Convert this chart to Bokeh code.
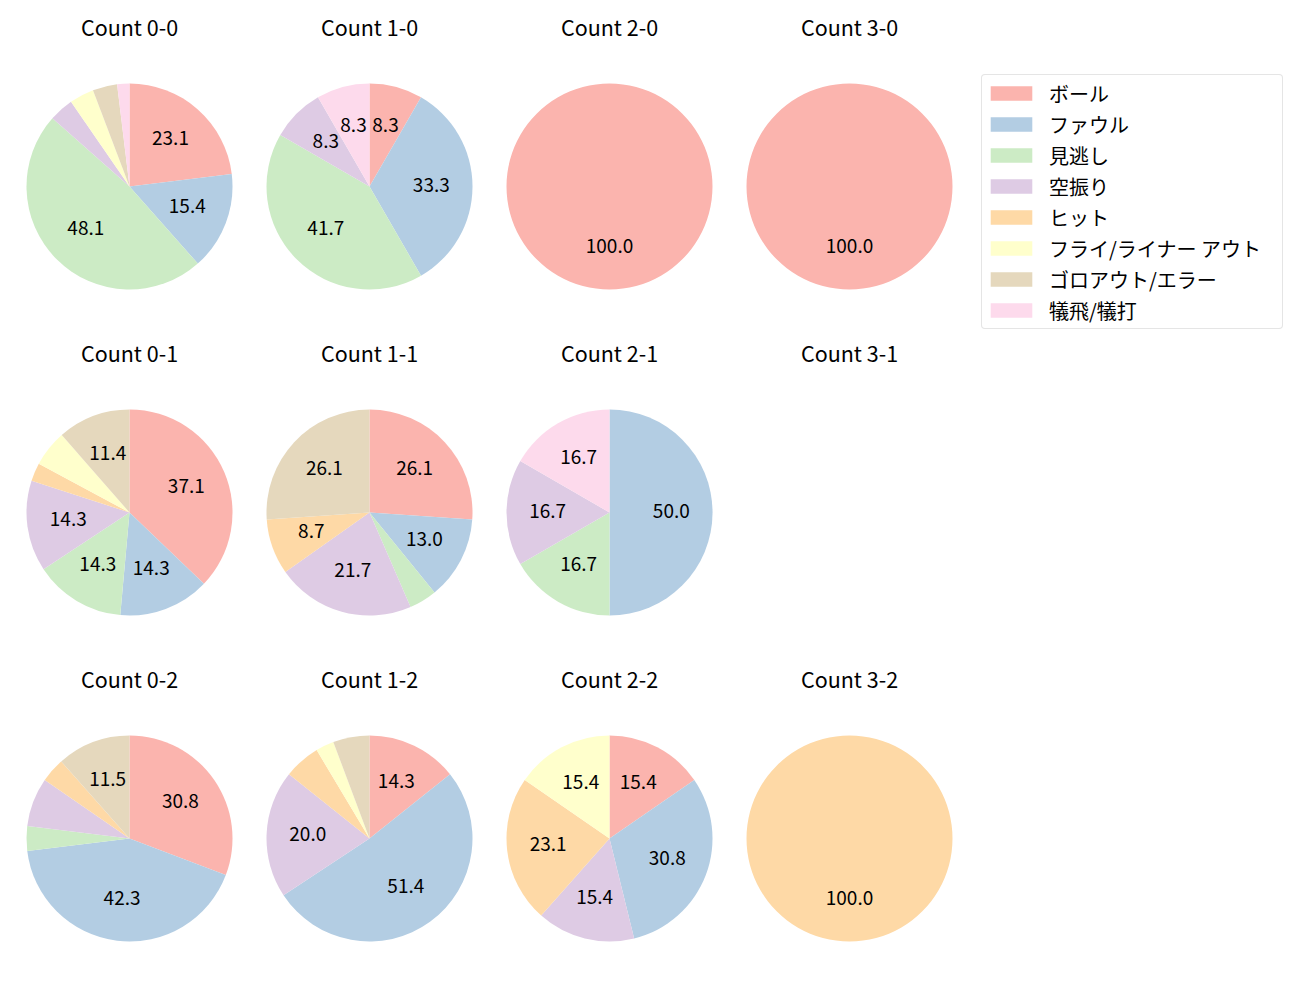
import math
from bokeh.plotting import figure
from bokeh.models import ColumnDataSource, Range1d, Legend, LegendItem
from bokeh.core.properties import value
from bokeh.embed import file_html
from bokeh.resources import INLINE

# ---------------- data ----------------
categories = ["ボール", "ファウル", "見逃し", "空振り", "ヒット",
              "フライ/ライナー アウト", "ゴロアウト/エラー", "犠飛/犠打"]
colors = ["#fbb4ae", "#b3cde3", "#ccebc5", "#decbe4",
          "#fed9a6", "#ffffcc", "#e5d8bd", "#fddaec"]

balls = [0, 1, 2, 3]
strikes = [0, 1, 2]

# pitch outcome counts per ball-strike count, in category order
count_0_0 = [12, 8, 25, 2, 0, 2, 2, 1]
count_1_0 = [1, 4, 5, 1, 0, 0, 0, 1]
count_2_0 = [1, 0, 0, 0, 0, 0, 0, 0]
count_3_0 = [1, 0, 0, 0, 0, 0, 0, 0]
count_0_1 = [13, 5, 5, 5, 1, 2, 4, 0]
count_1_1 = [6, 3, 1, 5, 2, 0, 6, 0]
count_2_1 = [0, 3, 1, 1, 0, 0, 0, 1]
count_3_1 = [0, 0, 0, 0, 0, 0, 0, 0]
count_0_2 = [8, 11, 1, 2, 1, 0, 3, 0]
count_1_2 = [5, 18, 0, 7, 2, 1, 2, 0]
count_2_2 = [2, 4, 0, 2, 3, 2, 0, 0]
count_3_2 = [0, 0, 0, 0, 1, 0, 0, 0]

pitch_counts = {
    (0, 0): count_0_0, (1, 0): count_1_0, (2, 0): count_2_0, (3, 0): count_3_0,
    (0, 1): count_0_1, (1, 1): count_1_1, (2, 1): count_2_1, (3, 1): count_3_1,
    (0, 2): count_0_2, (1, 2): count_1_2, (2, 2): count_2_2, (3, 2): count_3_2,
}

# ---------------- layout ----------------
FONT = "Noto Sans CJK JP"
W, H = 1284, 984
X0, DX = 129, 240          # pie centre of first column, column step (px)
Y0, DY = 1000 - 186, 326   # pie centre of first row (y up), row step
R = 103
TITLE_OFF = 160
LABEL_MIN = 8.0

p = figure(width=W, height=H, x_range=Range1d(0, W), y_range=Range1d(1000 - H, 1000),
           x_axis_type=None, y_axis_type=None, output_backend="svg",
           toolbar_location=None, min_border=0)
p.grid.visible = False
p.outline_line_color = None
p.background_fill_color = "white"

wedge_data = {i: dict(x=[], y=[], start=[], end=[]) for i in range(len(categories))}
label_data = dict(x=[], y=[], text=[])
title_data = dict(x=[], y=[], text=[])

for si, s in enumerate(strikes):
    for bi, b in enumerate(balls):
        cx = X0 + bi * DX
        cy = Y0 - si * DY
        title_data["x"].append(cx)
        title_data["y"].append(cy + TITLE_OFF)
        title_data["text"].append(f"Count {b}-{s}")
        vals = pitch_counts[(b, s)]
        total = sum(vals)
        if total == 0:
            continue
        cum = 0.0
        for ci, v in enumerate(vals):
            if v == 0:
                continue
            f0 = cum / total
            f1 = (cum + v) / total
            cum += v
            a0 = math.pi / 2 - 2 * math.pi * f0
            a1 = math.pi / 2 - 2 * math.pi * f1
            if f1 - f0 >= 0.9999:
                a1 = a0 - 2 * math.pi + 1e-5
            wedge_data[ci]["x"].append(cx)
            wedge_data[ci]["y"].append(cy)
            wedge_data[ci]["start"].append(a1)
            wedge_data[ci]["end"].append(a0)
            pct = 100.0 * v / total
            if pct >= LABEL_MIN:
                mid = (a0 + a1) / 2
                label_data["x"].append(cx + 0.6 * R * math.cos(mid))
                label_data["y"].append(cy + 0.6 * R * math.sin(mid) + 2)
                label_data["text"].append(f"{pct:.1f}")

items = []
for ci, cat in enumerate(categories):
    src = ColumnDataSource(wedge_data[ci])
    r = p.wedge(x="x", y="y", radius=R, start_angle="start", end_angle="end",
                direction="anticlock", source=src,
                fill_color=colors[ci], line_color=None)
    items.append(LegendItem(label=cat, renderers=[r]))

p.text(x="x", y="y", text="text", source=ColumnDataSource(label_data),
       text_font=value(FONT), text_font_size="19px", text_color="#000000",
       text_align="center", text_baseline="middle")

p.text(x="x", y="y", text="text", source=ColumnDataSource(title_data),
       text_font=value(FONT), text_font_size="21.5px", text_color="#000000",
       text_align="center", text_baseline="middle")

legend = Legend(items=items, location=(981, 655))
legend.label_text_font = FONT
legend.label_text_font_size = "20px"
legend.label_text_color = "#000000"
legend.glyph_width = 52
legend.glyph_height = 18
legend.label_standoff = 12
legend.label_width = 230
legend.label_height = 30
legend.spacing = 1
legend.padding = 3
legend.margin = 0
legend.border_line_color = "#cccccc"
legend.border_line_width = 1
legend.background_fill_color = "white"
legend.background_fill_alpha = 1.0
if "border_radius" in Legend.properties():
    legend.border_radius = 4
p.add_layout(legend)

open("out.html", "w").write(file_html(p, INLINE))
